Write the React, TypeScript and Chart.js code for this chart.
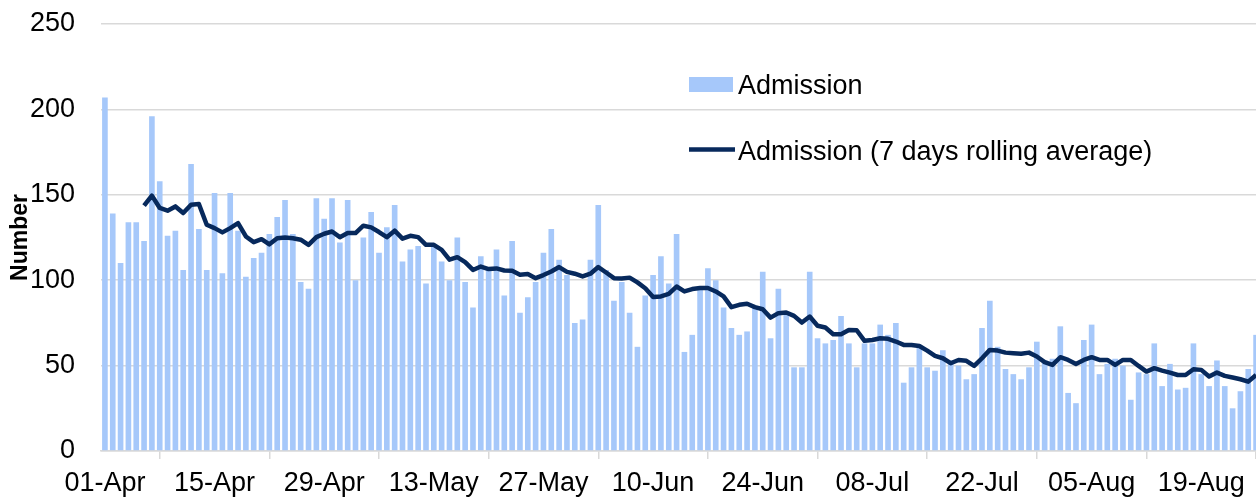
import React, { useEffect, useRef } from "react";
import { Chart, registerables } from "chart.js";

Chart.register(...registerables);

// ---------- data ----------
const MONTH_NAMES = ["Jan", "Feb", "Mar", "Apr", "May", "Jun", "Jul", "Aug", "Sep", "Oct", "Nov", "Dec"];
const START_MONTH = 3; // April (0-based)
const DAY_COUNT = 148;

function buildDayLabels(count: number): string[] {
  const out: string[] = [];
  for (let i = 0; i < count; i++) {
    const d = new Date(Date.UTC(2021, START_MONTH, 1 + i));
    const dd = String(d.getUTCDate()).padStart(2, "0");
    out.push(`${dd}-${MONTH_NAMES[d.getUTCMonth()]}`);
  }
  return out;
}

const categories: string[] = buildDayLabels(DAY_COUNT);

const tickLabels: string[] = [
  "01-Apr", "15-Apr", "29-Apr", "13-May", "27-May", "10-Jun",
  "24-Jun", "08-Jul", "22-Jul", "05-Aug", "19-Aug",
];

const admissions: number[] = [
  207, 139, 110, 134, 134, 123, 196, 158, 126, 129,
  106, 168, 130, 106, 151, 104, 151, 129, 102, 113,
  116, 127, 137, 147, 127, 99, 95, 148, 136, 148,
  122, 147, 100, 125, 140, 116, 131, 144, 111, 118,
  120, 98, 121, 111, 100, 125, 99, 84, 114, 106,
  118, 91, 123, 81, 90, 99, 116, 130, 112, 103,
  75, 77, 112, 144, 106, 88, 99, 81, 61, 91,
  103, 114, 98, 127, 58, 68, 95, 107, 100, 84,
  72, 68, 70, 84, 105, 66, 95, 80, 49, 49,
  105, 66, 63, 65, 79, 63, 49, 63, 63, 74,
  68, 75, 40, 49, 61, 49, 47, 59, 53, 50,
  42, 45, 72, 88, 61, 48, 45, 42, 49, 64,
  53, 54, 73, 34, 28, 65, 74, 45, 51, 54,
  50, 30, 46, 45, 63, 38, 51, 36, 37, 63,
  45, 38, 53, 38, 25, 35, 48, 68,
];

const rollingAverage: (number | null)[] = [
  null, null, null, null, null, 143.6, 149.5, 142.3, 140.7, 143.2,
  139.3, 144.2, 144.6, 132.5, 130.5, 128, 130.5, 133.4, 125.6, 122.3,
  124, 121, 124.6, 125, 124.6, 123.7, 120.7, 125.2, 127.2, 128.5,
  125.2, 127.6, 127.6, 131.9, 130.9, 128.2, 125.2, 129, 124.3, 126,
  125.2, 120.7, 120.7, 117.8, 112, 113.5, 110.6, 106, 108, 106.5,
  106.9, 105.7, 105.5, 103.2, 103.6, 101.2, 103, 105.1, 107.7, 104.9,
  103.8, 102.2, 103.8, 107.7, 104.5, 101.2, 101, 101.5, 98.7, 95.3,
  90.1, 90.5, 92, 96.3, 93.4, 94.8, 95.4, 95.4, 93.4, 90.5,
  84.2, 85.6, 86.2, 84.2, 83, 78.1, 80.7, 81.1, 79.1, 75.2,
  78.7, 73.3, 72.3, 68.4, 68.4, 70.9, 70.7, 64.5, 65, 66,
  65.7, 64.1, 62.1, 62.1, 61.5, 58.8, 55.7, 54.3, 51.4, 53.3,
  52.8, 49.8, 54.3, 59.2, 58.8, 57.6, 57.2, 56.9, 57.6, 55.3,
  52, 50.4, 54.9, 53.3, 51, 53.3, 54.9, 53.3, 53.3, 50.4,
  53.3, 53.3, 49.8, 46.5, 48.5, 47.1, 45.9, 44.5, 44.5, 47.9,
  47.5, 43.6, 45.9, 44, 43, 42, 40.6, 44.5,
];

const seriesLabels: string[] = ["Admission", "Admission (7 days rolling average)"];
const yAxisTitle = "Number";
const yMin = 0;
const yMax = 250;
const yStep = 50;

// ---------- styles ----------
const FONT = "'Liberation Sans', Arial, Helvetica, sans-serif";
const BAR_COLOR = "#a6c8fa";
const LINE_COLOR = "#07295c";
const GRID_COLOR = "#d9d9d9";
const TEXT_COLOR = "#000000";

const insideLegend = {
  id: "insideLegend",
  afterDraw(chart: any) {
    const ctx = chart.ctx as CanvasRenderingContext2D;
    const left = chart.chartArea.left;
    const x0 = left + 588;
    ctx.save();
    ctx.font = `27px ${FONT}`;
    ctx.textBaseline = "alphabetic";
    ctx.textAlign = "left";
    // bar entry
    ctx.fillStyle = BAR_COLOR;
    ctx.fillRect(x0, 77, 44, 15);
    ctx.fillStyle = TEXT_COLOR;
    ctx.fillText(seriesLabels[0], x0 + 49, 94);
    // line entry
    ctx.strokeStyle = LINE_COLOR;
    ctx.lineWidth = 4.5;
    ctx.beginPath();
    ctx.moveTo(x0, 149.5);
    ctx.lineTo(x0 + 46, 149.5);
    ctx.stroke();
    ctx.fillStyle = TEXT_COLOR;
    ctx.fillText(seriesLabels[1], x0 + 49, 159.5);
    ctx.restore();
  },
};

export default function App() {
  const canvasRef = useRef<HTMLCanvasElement | null>(null);

  useEffect(() => {
    const canvas = canvasRef.current;
    if (!canvas) return;
    const chart = new Chart(canvas, {
      type: "bar",
      data: {
        labels: categories,
        datasets: [
          {
            type: "line",
            label: seriesLabels[1],
            data: rollingAverage,
            borderColor: LINE_COLOR,
            backgroundColor: LINE_COLOR,
            borderWidth: 4.5,
            pointRadius: 0,
            tension: 0,
            borderJoinStyle: "round",
            spanGaps: false,
            order: 0,
          } as any,
          {
            type: "bar",
            label: seriesLabels[0],
            data: admissions,
            backgroundColor: BAR_COLOR,
            borderWidth: 0,
            categoryPercentage: 1,
            barPercentage: 0.72,
            order: 1,
          },
        ],
      },
      options: {
        responsive: false,
        animation: false,
        devicePixelRatio: 1,
        layout: { padding: { top: 24, right: 0, bottom: 0, left: 0 } },
        plugins: {
          legend: { display: false },
          tooltip: { enabled: false },
          title: { display: false },
        },
        scales: {
          x: {
            type: "category",
            offset: true,
            border: { display: true, color: GRID_COLOR, width: 1.5 },
            grid: {
              offset: true,
              drawOnChartArea: false,
              drawTicks: true,
              tickLength: 8,
              color: GRID_COLOR,
              lineWidth: 1.5,
            },
            ticks: {
              autoSkip: false,
              maxRotation: 0,
              minRotation: 0,
              padding: 8,
              color: TEXT_COLOR,
              font: { family: FONT, size: 27 },
              callback: (_v: any, index: number) => {
                const lab = categories[index];
                return tickLabels.includes(lab) ? lab : null;
              },
            },
            afterFit: (scale: any) => {
              scale.height = 49;
            },
          },
          y: {
            min: yMin,
            max: yMax,
            border: { display: false },
            grid: { color: GRID_COLOR, lineWidth: 1.5, drawTicks: false },
            ticks: {
              stepSize: yStep,
              padding: 26,
              color: TEXT_COLOR,
              font: { family: FONT, size: 27 },
            },
            title: {
              display: true,
              text: yAxisTitle,
              color: TEXT_COLOR,
              font: { family: FONT, size: 23, weight: "bold" },
              padding: { top: 7, bottom: 0 },
            },
            afterFit: (scale: any) => {
              scale.width = 101;
              scale.paddingTop = 0;
              scale.paddingBottom = 0;
            },
          },
        },
      },
      plugins: [insideLegend],
    });
    return () => chart.destroy();
  }, []);

  return (
    <div
      style={{
        position: "fixed",
        left: 0,
        top: 0,
        width: 1256,
        height: 500,
        overflow: "hidden",
        background: "#ffffff",
      }}
    >
      <canvas ref={canvasRef} width={1260} height={500} style={{ display: "block" }} />
    </div>
  );
}
